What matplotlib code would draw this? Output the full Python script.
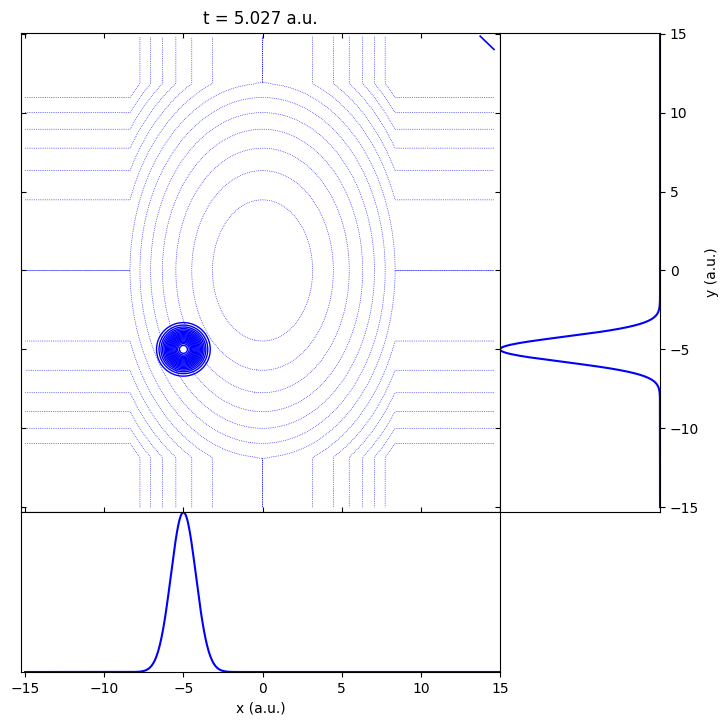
import numpy as np
import matplotlib
matplotlib.use("Agg")
import matplotlib.pyplot as plt

# ---- data / parameters ----
time_au = 5.027
tick_vals = [-15, -10, -5, 0, 5, 10, 15]
pot_levels = [10, 20, 30, 40, 50, 60, 70, 80, 90, 100, 110, 120, 130, 140]
pot_kx, pot_ky = 1.0, 0.5                   # V = kx*x^2 + ky*y^2 (each term capped)
pot_cap = 70.0                              # cap of each term of the potential
grid_x_range = (-15.0, 14.625)              # extent of the potential grid
grid_y_range = (-15.0, 14.8)
wp_center = (-5.0, -5.0)                    # wave packet centre
wp_sigma = 0.79                             # wave packet width
wp_levels = [0.10, 0.15, 0.20, 0.25, 0.30, 0.35, 0.40, 0.45, 0.50,
             0.55, 0.60, 0.65, 0.70, 0.75, 0.80, 0.85, 0.90, 0.95]
traj_x = [13.75, 14.62]
traj_y = [14.84, 14.00]
xlim = (-15.28, 15.0)
ylim = (-15.32, 15.06)

# ---- fields ----
gx = np.arange(grid_x_range[0], grid_x_range[1] + 1e-9, 0.125)
gy = np.arange(grid_y_range[0], grid_y_range[1] + 1e-9, 0.1)
X, Y = np.meshgrid(gx, gy)
V = np.minimum(pot_kx * X**2, pot_cap) + np.minimum(pot_ky * Y**2, pot_cap)

gw = np.linspace(-15, 15, 601)
XW, YW = np.meshgrid(gw, gw)
rho = np.exp(-((XW - wp_center[0])**2 + (YW - wp_center[1])**2) / (2 * wp_sigma**2))
rho_x = rho.sum(axis=0)
rho_y = rho.sum(axis=1)

# ---- figure ----
fig = plt.figure(figsize=(7.28, 7.25), dpi=100)
ax = fig.add_axes([0.0284, 0.2934, 0.6584, 0.6615])
axb = fig.add_axes([0.0284, 0.0731, 0.6584, 0.2203], sharex=ax)
axr = fig.add_axes([0.6868, 0.2934, 0.2198, 0.6615], sharey=ax)

ax.contour(X, Y, V, levels=pot_levels, colors='b', linewidths=0.5,
           linestyles='dotted')
ax.contour(XW, YW, rho, levels=wp_levels, colors='b', linewidths=1.0)
ax.plot(traj_x, traj_y, color='b', lw=1.2)
ax.set_xlim(*xlim)
ax.set_ylim(*ylim)
ax.set_xticks(tick_vals)
ax.set_yticks(tick_vals)
ax.tick_params(direction='in', top=True, right=True, bottom=True, left=True,
               labelbottom=False, labelleft=False)
ax.set_title(f"t = {time_au:.3f} a.u.", fontsize=12)

axb.plot(gw, rho_x, color='b', lw=1.5)
axb.set_ylim(0, rho_x.max())
axb.set_yticks([])
axb.tick_params(axis='x', labelbottom=True)
axb.set_xlabel("x (a.u.)")

axr.plot(rho_y, gw, color='b', lw=1.5)
axr.set_xlim(rho_y.max(), 0)
axr.set_xticks([])
axr.yaxis.tick_right()
axr.yaxis.set_label_position('right')
axr.tick_params(axis='y', labelright=True, labelleft=False, left=False)
axr.set_ylabel("y (a.u.)")
axr.set_ylim(*ylim)

fig.savefig("out.png", dpi=100)
